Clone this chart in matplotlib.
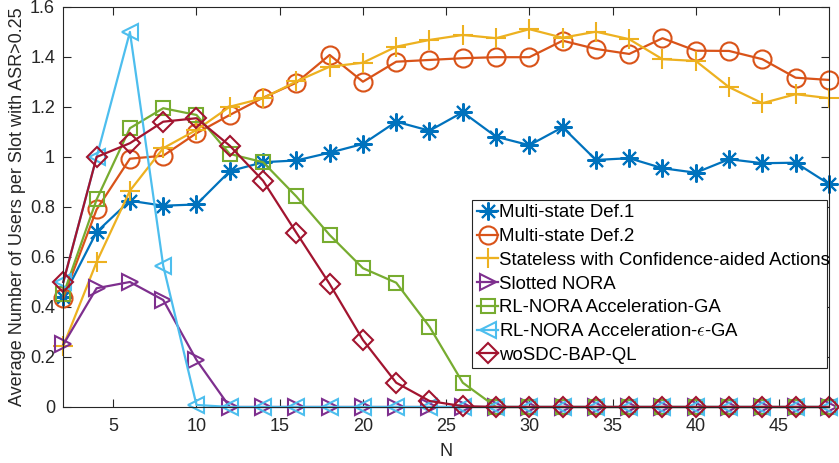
import numpy as np
import matplotlib.pyplot as plt
from matplotlib.ticker import FuncFormatter

plt.rcParams['font.family'] = ['Liberation Sans', 'DejaVu Sans']
plt.rcParams['mathtext.fontset'] = 'cm'

# number of users
N = list(range(2, 49, 2))

multi_def1 = [0.44, 0.70, 0.825, 0.805, 0.81, 0.943, 0.979, 0.986, 1.017, 1.052, 1.141, 1.105,
              1.179, 1.081, 1.047, 1.119, 0.988, 0.995, 0.955, 0.937, 0.991, 0.975, 0.977, 0.892]
multi_def2 = [0.437, 0.79, 0.993, 1.005, 1.095, 1.168, 1.237, 1.297, 1.408, 1.301, 1.381, 1.388,
              1.395, 1.399, 1.399, 1.465, 1.432, 1.412, 1.475, 1.425, 1.424, 1.391, 1.317, 1.308]
stateless = [0.245, 0.58, 0.865, 1.035, 1.108, 1.201, 1.235, 1.302, 1.361, 1.377, 1.441, 1.468,
             1.488, 1.475, 1.511, 1.477, 1.501, 1.471, 1.391, 1.384, 1.279, 1.215, 1.251, 1.235]
slotted = [0.25, 0.475, 0.50, 0.428, 0.188] + [0] * 19
rl_ga = [0.45, 0.83, 1.115, 1.195, 1.168, 1.012, 0.979, 0.842, 0.688, 0.555, 0.497, 0.321,
         0.097, 0, 0, 0, 0, 0, 0, 0, 0, 0, 0, 0]
rl_eps_ga = [0.50, 1.0, 1.50, 0.565, 0.008] + [0] * 19
wosdc = [0.50, 1.0, 1.055, 1.141, 1.155, 1.045, 0.905, 0.697, 0.492, 0.268, 0.097, 0.024,
         0.003, 0, 0, 0, 0, 0, 0, 0, 0, 0, 0, 0]

asterisk = (8, 2, 0)  # 8-spoke asterisk like MATLAB's '*'
series = [
    (multi_def1, 'Multi-state Def.1', '#0072BD', asterisk, 13),
    (multi_def2, 'Multi-state Def.2', '#D95319', 'o', 13),
    (stateless, 'Stateless with Confidence-aided Actions', '#EDB120', '+', 15),
    (slotted, 'Slotted NORA', '#7E2F8E', '>', 12),
    (rl_ga, 'RL-NORA Acceleration-GA', '#77AC30', 's', 10),
    (rl_eps_ga, r'RL-NORA Acceleration-$\epsilon$-GA', '#4DBEEE', '<', 12),
    (wosdc, 'woSDC-BAP-QL', '#A2142F', 'D', 10),
]

fig = plt.figure(figsize=(8.39, 4.63), dpi=100)
ax = fig.add_axes([0.0755, 0.121, 0.9125, 0.864])

for y, label, color, marker, ms in series:
    ax.plot(N, y, color=color, marker=marker, markersize=ms, markerfacecolor='none',
            markeredgewidth=1.5, linewidth=1.6, label=label, clip_on=False)

ax.set_xlim(2, 48)
ax.set_ylim(0, 1.6)
ax.set_xticks(range(5, 46, 5))
ax.set_yticks(np.arange(0, 1.61, 0.2))
ax.yaxis.set_major_formatter(FuncFormatter(lambda v, p: '%g' % round(v, 1)))

dark = '#262626'
for s in ax.spines.values():
    s.set_color(dark)
    s.set_linewidth(0.8)
ax.tick_params(direction='in', length=6, width=0.8, color=dark, labelcolor=dark,
               labelsize=13, top=True, right=True, pad=6)
ax.tick_params(axis='x', pad=8)

ax.set_xlabel('N', fontsize=13, color=dark, labelpad=6)
ax.set_ylabel('Average Number of Users per Slot with ASR>0.25', fontsize=13, color=dark,
              labelpad=3)

leg = ax.legend(loc='upper left', bbox_to_anchor=(0.534, 0.105, 0.464, 0.413), mode='expand',
                fontsize=13.4, handlelength=1.15, handletextpad=0.05, labelspacing=0.36,
                borderpad=0.25, borderaxespad=0, fancybox=False, framealpha=1)
leg.get_frame().set_edgecolor(dark)
leg.get_frame().set_linewidth(0.8)

fig.savefig('out.png', dpi=100)
